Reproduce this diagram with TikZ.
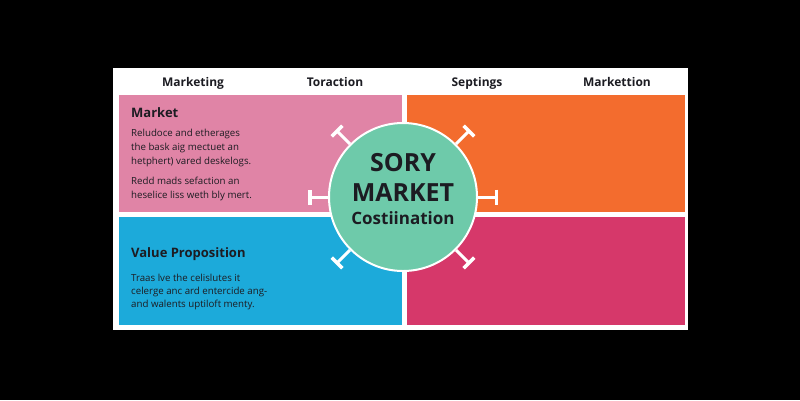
\documentclass[tikz,border=0pt]{standalone}
\usepackage{fontspec}
\setmainfont{Open Sans}
\usetikzlibrary{arrows.meta}
\definecolor{mkpink}{RGB}{224,132,166}
\definecolor{mkorange}{RGB}{243,108,46}
\definecolor{mkblue}{RGB}{28,170,218}
\definecolor{mkred}{RGB}{214,56,106}
\definecolor{mkgreen}{RGB}{110,202,170}
\definecolor{mkink}{RGB}{28,28,34}
\tikzset{
  head/.style={font=\fontsize{12}{14}\selectfont\bfseries,anchor=base},
  boxtitle/.style={font=\fontsize{13}{15}\selectfont\bfseries,anchor=base west},
  boxtext/.style={font=\fontsize{9.7}{14}\selectfont,align=left,anchor=base west},
  hub/.style={circle,fill=mkgreen,draw=white,line width=2pt,minimum size=148pt},
  tee/.style={draw=white,line width=3pt,-{Bar[width=15pt,line width=3.5pt]}}
}
\begin{document}
\begin{tikzpicture}[x=1pt,y=-1pt,line width=0.4pt,every node/.style={inner sep=0pt,text=mkink}]
\useasboundingbox (0,0) rectangle (800,400);
\fill[black] (0,0) rectangle (800,400);
\fill[white] (113,68) rectangle (688,330);
\fill[mkpink] (119,95) rectangle (402,212);
\fill[mkorange] (407,95) rectangle (685,212);
\fill[mkblue] (119,217) rectangle (402,325);
\fill[mkred] (407,217) rectangle (685,325);
\node[head] (hmarketing) at (193,86) {Marketing};
\node[head] (htoraction) at (335,86) {Toraction};
\node[head] (hseptings) at (477,86) {Septings};
\node[head] (hmarkettion) at (617,86) {Markettion};
\node[boxtitle] (tmarket) at (131,117) {Market};
% base of a multi-line node is its last line
\node[boxtext] (pmarketa) at (131,164) {Reludoce and etherages\\the bask aig mectuet an\\hetphert) vared deskelogs.};
\node[boxtext] (pmarketb) at (131,198) {Redd mads sefaction an\\heselice liss weth bly mert.};
\node[boxtitle] (tvalue) at (131,257) {Value Proposition};
\node[boxtext,font=\fontsize{9.7}{13}\selectfont] (pvalue) at (131,307) {Traas lve the celislutes it\\celerge anc ard entercide ang-\\and walents uptiloft menty.};
\node[hub] (hub) at (403,197) {};
\foreach \a in {0,45,135,180,225,315}
  \draw[tee] (hub.\a) -- ++(\a:20pt);
\node[font=\fontsize{25}{27}\selectfont\bfseries,anchor=base] (sory) at (403,171) {SORY};
\node[font=\fontsize{25}{27}\selectfont\bfseries,anchor=base] (market) at (403,201) {MARKET};
\node[font=\fontsize{17}{19}\selectfont\bfseries,anchor=base] (cost) at (403,224) {Costiination};
\end{tikzpicture}
\end{document}
